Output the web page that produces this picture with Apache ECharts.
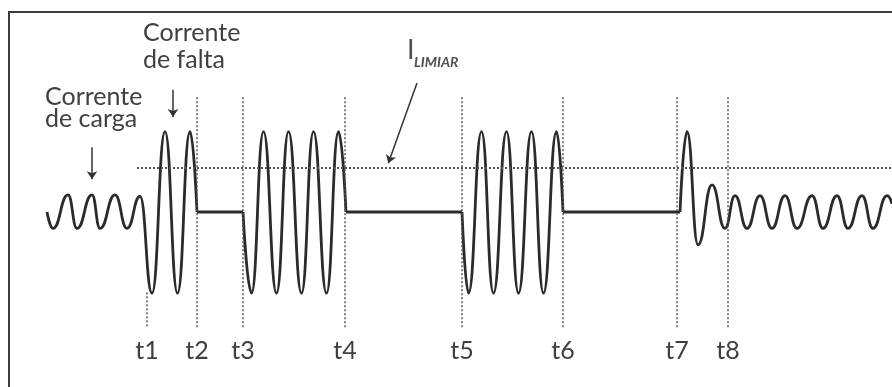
<!DOCTYPE html>
<html>
  <head>
    <meta charset="UTF-8" />
    <title>Corrente de falta e religamento</title>
    <script src="https://cdn.jsdelivr.net/npm/echarts@6/dist/echarts.min.js"></script>
  </head>
  <body style="margin: 0; background: #fff">
    <div id="chart" style="width: 892px; height: 387px"></div>
  </body>
  <script>
    // waveform: [time, current], crests / troughs / zero points
    const cargaEFalta = [[47, 0], [53, -0.2], [68, 0.21], [77, -0.2], [92, 0.21], [100, -0.2], [115, 0.21], [127, -0.2], [140, 0.19],
      [152, -0.99], [165, 0.98], [177.5, -0.99], [190, 0.98], [197, 0]];
    const religamento1 = [[243, 0], [251.5, -0.99], [263.5, 0.98], [276.5, -0.99], [288.5, 0.98], [301.5, -0.99], [313.5, 0.98],
      [326.5, -0.99], [338.5, 0.98], [346, 0]];
    const religamento2 = [[462, 0], [468.5, -0.99], [481.5, 0.98], [493.5, -0.99], [506.5, 0.98], [518.5, -0.99], [531.5, 0.98],
      [543.5, -0.99], [556.5, 0.98], [563, 0]];
    const religamento3 = [[680, 0], [687, 0.98], [698, -0.4], [712, 0.33], [725, -0.2], [735, 0.2], [747, -0.2], [760, 0.2], [772, -0.2],
      [785, 0.2], [797, -0.2], [812, 0.2], [823, -0.2], [837, 0.2], [848, -0.2], [862, 0.2], [873, -0.2], [887, 0.2], [892, 0.1]];
    // dead time, breaker open
    const aberto1 = [[197, 0], [243, 0]];
    const aberto2 = [[346, 0], [462, 0]];
    const aberto3 = [[563, 0], [680, 0]];

    const tNomes = ["t1", "t2", "t3", "t4", "t5", "t6", "t7", "t8"];
    const tInstantes = [147, 197, 243, 345, 462, 563, 677, 728];
    const tTopo = [-0.98, 1.4, 1.4, 1.4, 1.4, 1.4, 1.4, 1.4];
    const tBase = -1.41;
    const iLimiar = 0.54;

    const cor = "#2b2b2b";
    const corTexto = "#404040";
    const fonte = "Lato";

    let myChart = echarts.init(document.getElementById("chart"));

    const curva = (data) => ({
      type: "line",
      data: data,
      smooth: 0.5,
      smoothMonotone: "x",
      symbol: "none",
      lineStyle: { color: cor, width: 2.8 },
      animation: false,
      silent: true,
    });
    const reta = (data) => ({
      type: "line",
      data: data,
      symbol: "none",
      lineStyle: { color: cor, width: 2.8 },
      animation: false,
      silent: true,
    });

    let linhasT = tNomes.map((n, i) => [
      { name: n, coord: [tInstantes[i], tTopo[i]] },
      { name: n, coord: [tInstantes[i], tBase] },
    ]);

    let marcas = reta(aberto1);
    marcas.markLine = {
      silent: true,
      animation: false,
      symbol: ["none", "none"],
      lineStyle: { type: [2, 2], width: 1.5, color: "#555" },
      label: {
        show: true,
        position: "end",
        distance: 11,
        formatter: (p) => p.name,
        fontFamily: fonte,
        fontSize: 25,
        color: corTexto,
      },
      data: linhasT.concat([
        [
          { coord: [137, iLimiar], label: { show: false }, lineStyle: { width: 2 } },
          { coord: [892, iLimiar] },
        ],
      ]),
    };

    // annotation arrows
    let setas = {
      type: "line",
      data: [],
      markLine: {
        silent: true,
        animation: false,
        symbol: ["none", "arrow"],
        symbolSize: 8,
        label: { show: false },
        lineStyle: { type: "solid", width: 1.5, color: "#333" },
        data: [
          [{ coord: [92, 0.79] }, { coord: [92, 0.40] }],
          [{ coord: [173, 1.49] }, { coord: [173, 1.16] }],
          [{ coord: [417, 1.573] }, { coord: [388.3, 0.595] }],
        ],
      },
    };

    myChart.setOption({
      grid: { left: 0, right: 0, top: 48, bottom: 11 },
      xAxis: { type: "value", min: 0, max: 892, show: false },
      yAxis: { type: "value", min: -2, max: 2, show: false },
      series: [
        curva(cargaEFalta),
        marcas,
        curva(religamento1),
        reta(aberto2),
        curva(religamento2),
        reta(aberto3),
        curva(religamento3),
        setas,
      ],
      graphic: [
        {
          type: "rect",
          shape: { x: 9, y: 12, width: 900, height: 400 },
          style: { fill: "none", stroke: "#3c3c3c", lineWidth: 2 },
          silent: true,
        },
        {
          type: "text",
          style: { x: 143, y: 19.5, text: "Corrente\nde falta", font: "25px Lato", lineHeight: 27, fill: corTexto, verticalAlign: "top" },
          silent: true,
        },
        {
          type: "text",
          style: { x: 45, y: 86, text: "Corrente\nde carga", font: "25px Lato", lineHeight: 22, fill: corTexto, verticalAlign: "top" },
          silent: true,
        },
        {
          type: "text",
          style: { x: 407, y: 37, text: "I", font: "27px Lato", fill: "#505050", verticalAlign: "top" },
          silent: true,
        },
        {
          type: "text",
          style: { x: 414, y: 55, text: "LIMIAR", font: "italic bold 14px Lato", fill: "#505050", verticalAlign: "top" },
          silent: true,
        },
      ],
    });
  </script>
</html>
